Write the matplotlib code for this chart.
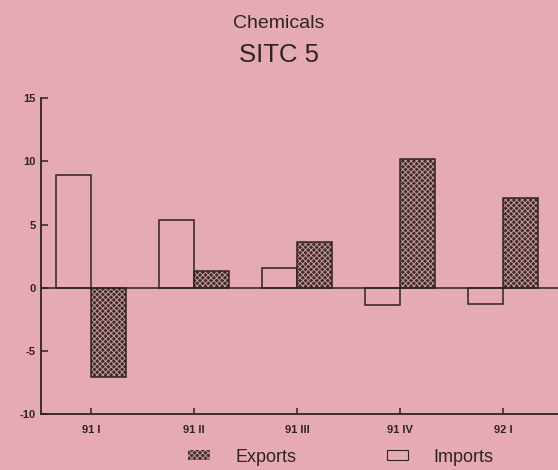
import matplotlib.pyplot as plt
import numpy as np
from matplotlib.patches import Patch

# quarters and % changes
quarters = ['91 I', '91 II', '91 III', '91 IV', '92 I']
imports = [8.9, 5.4, 1.6, -1.4, -1.3]
exports = [-7.1, 1.3, 3.6, 10.2, 7.1]

PINK = '#e6aab4'
INK = '#2e2422'
DOTS = '#c9959d'

plt.rcParams['font.family'] = ['Liberation Sans', 'DejaVu Sans']
plt.rcParams['axes.unicode_minus'] = False
plt.rcParams['hatch.linewidth'] = 0.7

fig = plt.figure(figsize=(5.58, 4.70), dpi=100)
fig.patch.set_facecolor(PINK)
ax = fig.add_axes([0.0735, 0.119, 0.9265, 0.672])
ax.set_facecolor(PINK)

x = np.arange(len(quarters))
w = 0.34
ax.bar(x - w / 2, imports, w, facecolor=PINK, edgecolor=INK, linewidth=1.1, label='Imports')
# exports: dark fill with fine light dot pattern, then an outline on top
ax.bar(x + w / 2, exports, w, facecolor='#3b2d2a', edgecolor=DOTS, linewidth=0,
       hatch='xxxxxx')
ax.bar(x + w / 2, exports, w, fill=False, edgecolor=INK, linewidth=1.1, label='Exports')
ax.axhline(0, color=INK, linewidth=1.1)

ax.set_xlim(-0.485, 4.53)
ax.set_ylim(-10, 15)
ax.set_yticks([-10, -5, 0, 5, 10, 15])
ax.set_xticks(x)
ax.set_xticklabels(quarters)

for s in ['top', 'right']:
    ax.spines[s].set_visible(False)
for s in ['left', 'bottom']:
    ax.spines[s].set_color(INK)
    ax.spines[s].set_linewidth(1.3)

ax.tick_params(axis='y', direction='in', length=5, width=1.1, color=INK,
               labelsize=8, labelcolor=INK, pad=4)
ax.tick_params(axis='x', direction='in', length=4, width=1.1, color=INK,
               labelsize=8, labelcolor=INK, pad=8)
for lab in ax.get_xticklabels() + ax.get_yticklabels():
    lab.set_fontweight('bold')

fig.text(0.5, 1 - 23 / 470, 'Chemicals', ha='center', va='center', fontsize=14, color=INK)
fig.text(0.5, 1 - 55 / 470, 'SITC 5', ha='center', va='center', fontsize=18.5, color=INK)

handles = [Patch(facecolor='#3b2d2a', edgecolor=DOTS, hatch='xxxxxx', linewidth=0),
           Patch(facecolor=PINK, edgecolor=INK, linewidth=0.8)]
fig.legend(handles, ['Exports', 'Imports'], ncol=2, frameon=False,
           loc='center', bbox_to_anchor=(341 / 558, 1 - 457 / 470),
           fontsize=13, handlelength=1.2, handleheight=0.5,
           handletextpad=1.4, columnspacing=5.0, labelcolor=INK)

fig.savefig('out.png', dpi=100, facecolor=PINK)
